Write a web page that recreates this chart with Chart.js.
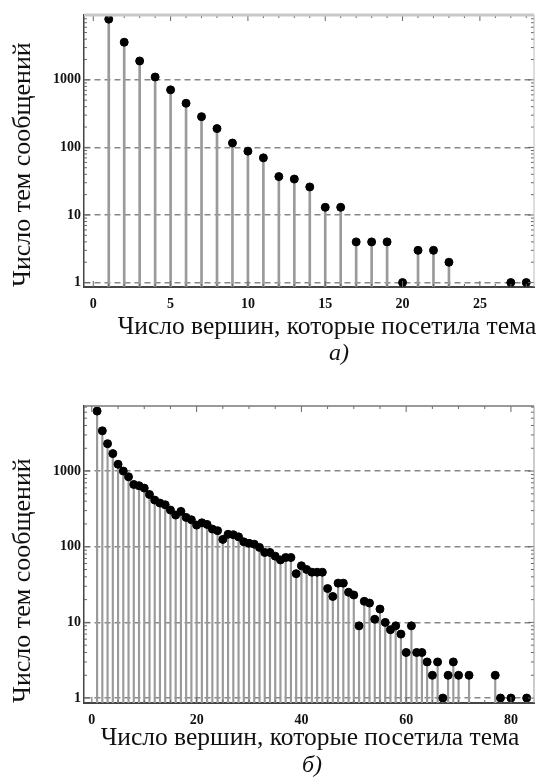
<!DOCTYPE html>
<html>
<head>
<meta charset="utf-8">
<script src="https://cdn.jsdelivr.net/npm/chart.js@4.4.0/dist/chart.umd.min.js"></script>
<style>
  body { margin: 0; background: #fff; width: 539px; height: 780px; position: relative; overflow: hidden; }
  canvas { position: absolute; left: 0; }
  .cap, .xt { position: absolute; font-family: "Liberation Serif", serif; color: #111; white-space: nowrap; }
  .cap { font-style: italic; font-size: 24px; line-height: 24px; }
  .xt { font-size: 25.5px; line-height: 26px; transform: translateX(-50%); }
</style>
</head>
<body>
<canvas id="chartA" width="539" height="345" style="top:0"></canvas>
<div class="xt" id="xtA" style="left:327px;top:313px"></div>
<div class="cap" style="left:329px;top:340px">а)</div>
<canvas id="chartB" width="539" height="368" style="top:390px"></canvas>
<div class="xt" id="xtB" style="left:310px;top:724px"></div>
<div class="cap" style="left:302px;top:752px">б)</div>
<script>
// а) число вершин -> число тем
const visitsA = [1, 2, 3, 4, 5, 6, 7, 8, 9, 10, 11, 12, 13, 14, 15, 16, 17, 18, 19, 20, 21, 22, 23, 27, 28];
const topicsA = [7900, 3600, 1900, 1100, 710, 450, 285, 190, 116, 88, 70, 37, 34, 26, 13, 13, 4, 4, 4, 1, 3, 3, 2, 1, 1];

// б)
const visitsB = [1, 2, 3, 4, 5, 6, 7, 8, 9, 10, 11, 12, 13, 14, 15, 16, 17, 18, 19, 20,
  21, 22, 23, 24, 25, 26, 27, 28, 29, 30, 31, 32, 33, 34, 35, 36, 37, 38, 39, 40,
  41, 42, 43, 44, 45, 46, 47, 48, 49, 50, 51, 52, 53, 54, 55, 56, 57, 58, 59, 60,
  61, 62, 63, 64, 65, 66, 67, 68, 69, 70, 72, 77, 78, 80, 83];
const topicsB = [6200, 3400, 2300, 1700, 1230, 1000, 840, 665, 640, 595, 490, 413, 377, 358, 305, 262, 293, 244, 227, 193,
  207, 197, 171, 163, 125, 146, 144, 135, 116, 111, 108, 98, 84, 84, 75, 67, 72, 72, 44, 56,
  50, 46, 46, 46, 28, 22, 33, 33, 25, 23, 9, 19, 18, 11, 15, 10, 8, 9, 7, 4,
  9, 4, 4, 3, 2, 3, 1, 2, 3, 2, 2, 2, 1, 1, 1];

const yTicks = [1, 10, 100, 1000];
const xTicksA = [0, 5, 10, 15, 20, 25];
const xTicksB = [0, 20, 40, 60, 80];

const xTitle = 'Число вершин, которые посетила тема';
const yTitle = 'Число тем сообщений';

const serif = 'Liberation Serif';

document.getElementById('xtA').textContent = xTitle;
document.getElementById('xtB').textContent = xTitle;

// рамка и внутренние засечки
const framePlugin = {
  id: 'frame',
  afterDraw(chart, args, o) {
    const { ctx, chartArea: a, scales: { x, y } } = chart;
    ctx.save();
    const seg = (x1, y1, x2, y2) => { ctx.beginPath(); ctx.moveTo(x1, y1); ctx.lineTo(x2, y2); ctx.stroke(); };
    ctx.strokeStyle = o.tickColor;
    ctx.lineWidth = 1;
    for (let d = 1; d <= 10000; d *= 10) {
      for (let m = 1; m < 10; m++) {
        const v = d * m;
        if (v < y.min || v > y.max) continue;
        const py = y.getPixelForValue(v);
        const len = m === 1 ? 6 : 3;
        seg(a.left, py, a.left + len, py);
        seg(a.right, py, a.right - len, py);
      }
    }
    for (let v = 0; v <= x.max; v += o.minorStep) {
      if (v < x.min) continue;
      const px = x.getPixelForValue(v);
      const len = v % o.majorStep === 0 ? 6 : 3;
      seg(px, a.top, px, a.top + len);
      seg(px, a.bottom, px, a.bottom - len);
    }
    ctx.strokeStyle = o.topColor;
    ctx.lineWidth = o.topWidth;
    seg(a.left, a.top, a.right, a.top);
    ctx.strokeStyle = o.rightColor;
    ctx.lineWidth = 1;
    seg(a.right, a.top, a.right, a.bottom);
    ctx.restore();
  }
};

function makeChart(id, xs, ys, xTicks, xMin, xMax, yMin, yMax, padTop, axisH, stemW, frame) {
  const pts = xs.map((v, i) => ({ x: v, y: ys[i] }));
  return new Chart(document.getElementById(id), {
    type: 'bar',
    data: {
      datasets: [{
        type: 'scatter',
        data: pts,
        backgroundColor: '#000',
        borderColor: '#000',
        pointRadius: 4,
        pointHoverRadius: 4
      }, {
        type: 'bar',
        data: pts,
        backgroundColor: '#9a9a9a',
        barThickness: stemW,
        grouped: false
      }]
    },
    options: {
      responsive: false,
      animation: false,
      layout: { padding: { top: padTop, right: 1, left: 0, bottom: 0 } },
      plugins: { legend: { display: false }, tooltip: { enabled: false }, frame: frame },
      scales: {
        x: {
          type: 'linear',
          min: xMin,
          max: xMax,
          offset: false,
          afterBuildTicks: s => { s.ticks = xTicks.map(v => ({ value: v })); },
          afterFit: s => { s.height = axisH; },
          grid: { display: false },
          border: { color: '#444', width: 2 },
          ticks: { padding: 1, color: '#111', font: { family: serif, weight: 'bold', size: 14 } }
        },
        y: {
          type: 'logarithmic',
          min: yMin,
          max: yMax,
          afterBuildTicks: s => { s.ticks = yTicks.map(v => ({ value: v })); },
          afterFit: s => { s.width = 84; },
          grid: { color: '#888', lineWidth: 1.5, drawTicks: false },
          border: { color: '#444', width: 1.5, dash: [6, 4] },
          ticks: { padding: 3, color: '#111', callback: v => String(v), font: { family: serif, weight: 'bold', size: 14 } },
          title: { display: true, text: yTitle, align: 'start', color: '#111', padding: { top: 8, bottom: 0 }, font: { family: serif, size: 26 } }
        }
      }
    },
    plugins: [framePlugin]
  });
}

makeChart('chartA', visitsA, topicsA, xTicksA, -0.6, 28.5, 0.86, 9100, 15, 58, 2,
  { tickColor: '#666', minorStep: 1, majorStep: 5, topColor: '#c8c8c8', topWidth: 3, rightColor: '#bbb' });
makeChart('chartB', visitsB, topicsB, xTicksB, -1.5, 84.4, 0.86, 7240, 16, 55, 1.5,
  { tickColor: '#666', minorStep: 5, majorStep: 20, topColor: '#777', topWidth: 1.5, rightColor: '#999' });
</script>
</body>
</html>
